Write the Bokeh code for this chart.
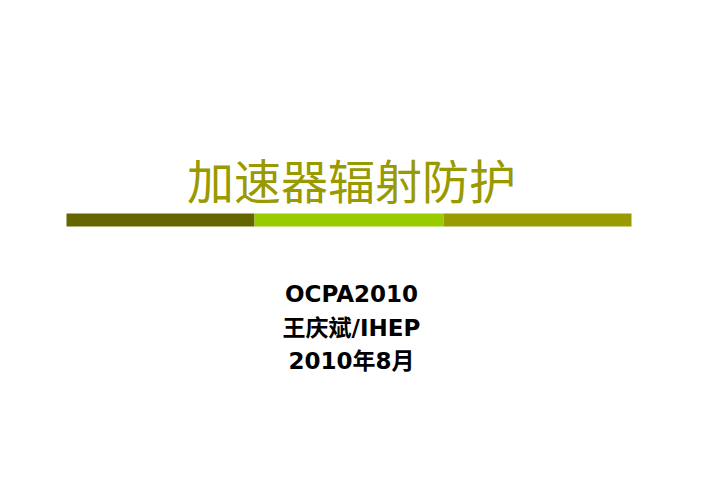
from bokeh.plotting import figure
from bokeh.models import Range1d, ColumnDataSource
from bokeh.core.properties import value
from bokeh.embed import file_html
from bokeh.resources import INLINE

# Data
title_text = ["加速器辐射防护"]
title_color = "#999900"
bar_colors = ["#666600", "#99CC00", "#999900"]
bar_left = [66, 254, 443]
bar_right = [254, 443, 631]
sub_lines = ["OCPA2010", "王庆斌/IHEP", "2010年8月"]
sub_y = [293, 327, 360]

W, H = 686, 480
p = figure(width=W, height=H, output_backend="svg", toolbar_location=None,
           x_range=Range1d(0, W), y_range=Range1d(H, 0), min_border=0)
p.axis.visible = False
p.grid.visible = False
p.outline_line_color = None
p.background_fill_color = "white"
p.border_fill_color = "white"

p.quad(left=bar_left, right=bar_right, top=[213] * 3, bottom=[226] * 3,
       fill_color=bar_colors, line_color=None)

p.text(x=[351], y=[178], text=title_text, text_align="center", text_baseline="middle",
       text_font=value("Noto Sans CJK SC"), text_font_size="47px", text_color=title_color)

src = ColumnDataSource(dict(x=[351] * 3, y=sub_y, t=sub_lines))
p.text(x="x", y="y", text="t", source=src, text_align="center", text_baseline="middle",
       text_font=value("DejaVu Sans, Noto Sans CJK SC"), text_font_style="bold",
       text_font_size="23px", text_color="black")

open("out.html", "w").write(file_html(p, INLINE))
